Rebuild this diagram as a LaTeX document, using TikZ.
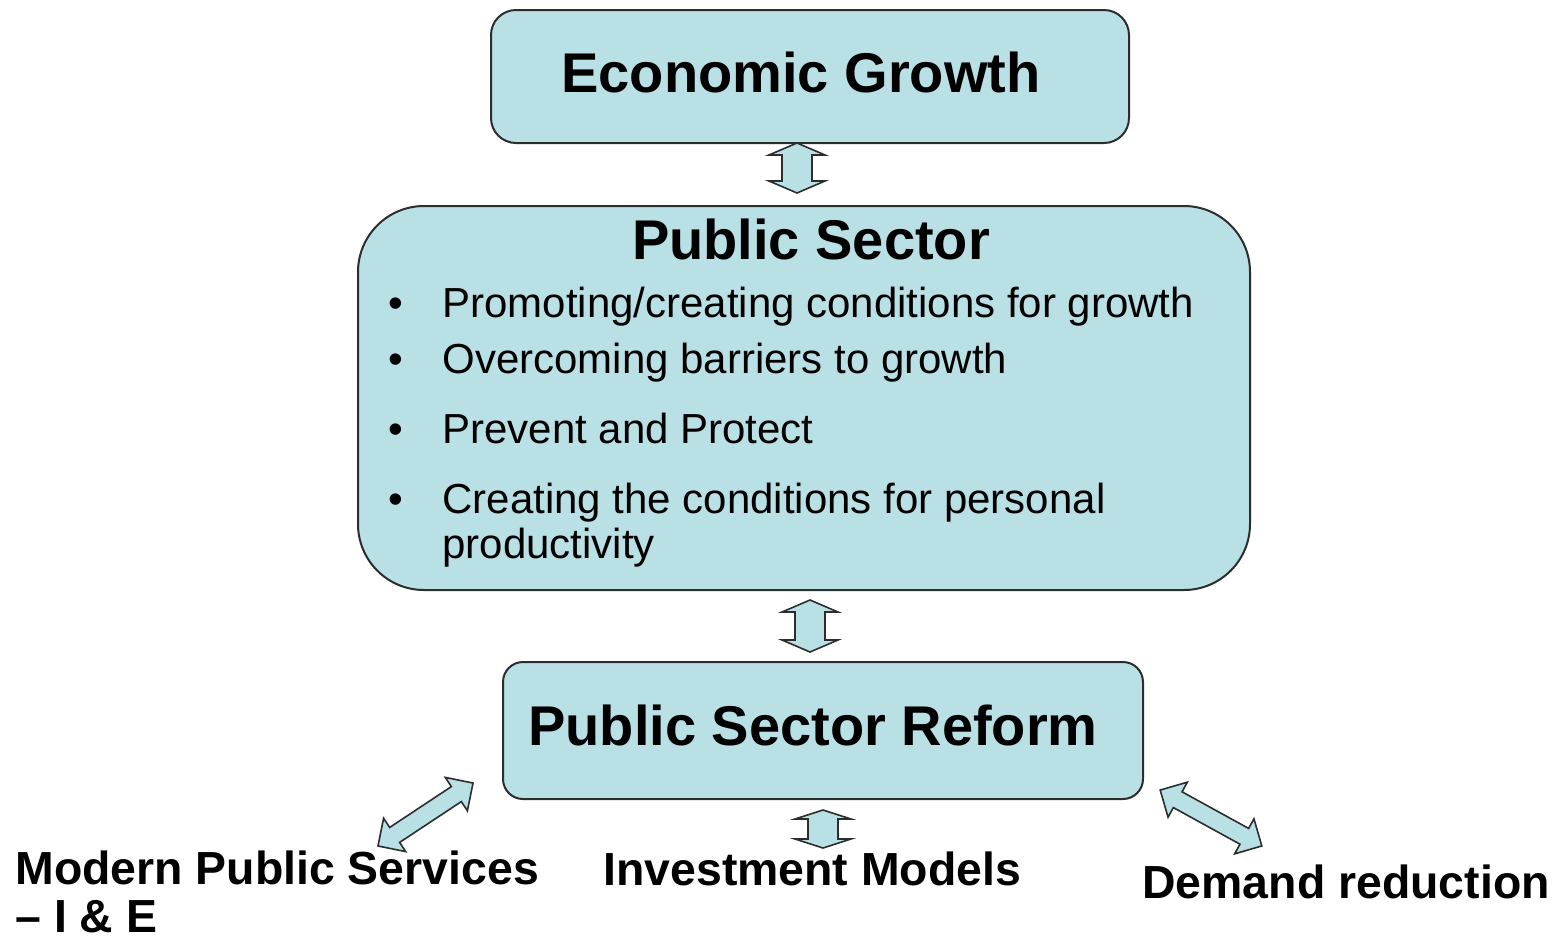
\documentclass[tikz,border=0pt]{standalone}
\usepackage{fontspec}
\setmainfont{Liberation Sans}
\definecolor{boxfill}{RGB}{185,224,228}
\definecolor{boxline}{RGB}{45,45,45}
\begin{document}
\begin{tikzpicture}[x=0.5pt,y=-0.5pt,
  box/.style={draw=boxline,line width=1pt,fill=boxfill,inner sep=0pt},
  title/.style={font=\fontsize{28}{32}\selectfont\bfseries,anchor=base,inner sep=0pt},
  bul/.style={font=\fontsize{21}{24}\selectfont,anchor=base west,inner sep=0pt},
  lab/.style={font=\fontsize{23.2}{26}\selectfont\bfseries,anchor=base west,inner sep=0pt},
  blockarrow/.style={draw=boxline,line width=0.8pt,fill=boxfill,line join=miter}]
\useasboundingbox (0,0) rectangle (1555,939);
% boxes
\node[box,rounded corners=12.5pt,minimum width=319pt,minimum height=66.5pt] (eg) at (810,76.5) {};
\node[box,rounded corners=33pt,minimum width=446pt,minimum height=192pt] (ps) at (804,398) {};
\node[box,rounded corners=10pt,minimum width=320pt,minimum height=68.5pt] (psr) at (823,730.5) {};
% titles
\node[title] (egt) at (801,92) {Economic Growth};
\node[title] (pst) at (811,259) {Public Sector};
\node[title] (psrt) at (813,745) {Public Sector Reform};
% bullets
\foreach \y/\t [count=\i] in {317/{Promoting/creating conditions for growth},373/{Overcoming barriers to growth},443/{Prevent and Protect},513/{Creating the conditions for personal}}{
  \node[bul] (b\i) at (442,\y) {\t};
  \node[bul,anchor=base] (d\i) at (396,\y) {•};
}
\node[bul] (b5) at (442,558) {productivity};
% bottom labels
\node[lab] (mps) at (15,884) {Modern Public Services};
\node[lab] (mps2) at (15,932) {– I \& E};
\node[lab] (im) at (603,885) {Investment Models};
\node[lab] (dr) at (1142,898) {Demand reduction};
% arrow centres
\coordinate (a1) at (797,168);
\coordinate (a2) at (810,626);
\coordinate (a3) at (823,829);
\coordinate (a4) at (425.5,814.5);
\coordinate (a5) at (1211,818);
% vertical double arrows
\draw[blockarrow,shift={(a1)}] (0,-25) -- (28,-13) -- (15,-13) -- (15,13) -- (28,13) -- (0,25) -- (-28,13) -- (-15,13) -- (-15,-13) -- (-28,-13) -- cycle;
\draw[blockarrow,shift={(a2)}] (0,-26) -- (28,-14) -- (15,-14) -- (15,14) -- (28,14) -- (0,26) -- (-28,14) -- (-15,14) -- (-15,-14) -- (-28,-14) -- cycle;
\draw[blockarrow,shift={(a3)}] (0,-19) -- (28,-10) -- (15,-10) -- (15,10) -- (28,10) -- (0,19) -- (-28,10) -- (-15,10) -- (-15,-10) -- (-28,-10) -- cycle;
% diagonal double arrows
\draw[blockarrow,shift={(a4)},rotate=33.5] (-57,0) -- (-37,-20) -- (-37,-9) -- (37,-9) -- (37,-20) -- (57,0) -- (37,20) -- (37,9) -- (-37,9) -- (-37,20) -- cycle;
\draw[blockarrow,shift={(a5)},rotate=-28.8] (-58,0) -- (-38,-20) -- (-38,-9) -- (38,-9) -- (38,-20) -- (58,0) -- (38,20) -- (38,9) -- (-38,9) -- (-38,20) -- cycle;
\end{tikzpicture}
\end{document}
